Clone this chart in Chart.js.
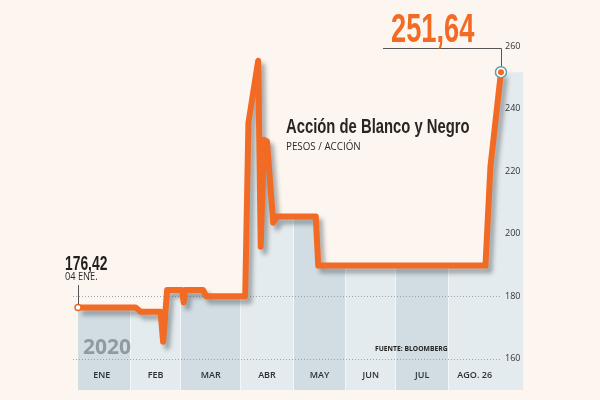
<!DOCTYPE html>
<html>
<head>
<meta charset="utf-8">
<script src="https://cdn.jsdelivr.net/npm/chart.js@4.4.1/dist/chart.umd.min.js"></script>
<style>
  html, body { margin: 0; padding: 0; background: #fdf5f0; }
  #wrap { position: relative; width: 600px; height: 400px; overflow: hidden; background: #fdf5f0; }
  #c { position: absolute; left: 0; top: 0; }
  .t { position: absolute; line-height: 1; white-space: nowrap; transform-origin: 0 0; }
  .cond { font-family: "Liberation Sans", Arial, sans-serif; font-weight: bold; }
</style>
</head>
<body>
<div id="wrap">
  <canvas id="c" width="600" height="400"></canvas>
  <div id="endVal" class="t cond" style="left:391px; top:8px; font-size:41px; color:#f26b24; transform:scaleX(0.665);"></div>
  <div id="startVal" class="t cond" style="left:65px; top:253.5px; font-size:19.5px; color:#231f1c; transform:scaleX(0.71);"></div>
  <div class="t" style="left:65px; top:271px; font-size:10.5px; font-family:'Open Sans',sans-serif; color:#2a2a2a; transform:scaleX(0.88);">04 ENE.</div>
  <div class="t cond" style="left:286px; top:116.8px; font-size:19.5px; color:#2a2520; transform:scaleX(0.76);">Acción de Blanco y Negro</div>
  <div class="t" style="left:286px; top:141px; font-size:10px; font-family:'Open Sans',sans-serif; color:#2a2a2a; transform:scaleX(0.98);">PESOS / ACCIÓN</div>
  <div class="t" style="left:375px; top:344.5px; font-size:7.5px; font-family:'Open Sans',sans-serif; font-weight:bold; color:#222; transform:scaleX(0.9);">FUENTE: BLOOMBERG</div>
  <div class="t" style="left:83px; top:336.4px; font-size:21px; font-family:'Open Sans',sans-serif; font-weight:bold; color:#8f9ba1;">2020</div>
</div>
<script>
// ---- data ----
const monthLabels = ['ENE', 'FEB', 'MAR', 'ABR', 'MAY', 'JUN', 'JUL', 'AGO. 26'];
const monthBounds = [0, 23, 43, 67, 88, 109, 129, 150, 180];
const dayIndex = [2, 25, 27, 35, 36, 37.6, 43.6, 44.2, 44.8, 52, 53.2, 68.8, 70.1, 74, 75, 76.3, 77.5, 80, 81.5, 97, 98, 164.8, 166.8, 171];
const price = [176.42, 176.42, 175, 175, 165.4, 182, 182, 178, 182, 182, 180, 180, 235.5, 255.3, 195.8, 230, 229.5, 203.5, 205.5, 205.5, 189.8, 189.8, 221.5, 251.64];
const yTicks = [160, 180, 200, 220, 240, 260];
const gridValues = [160, 180];

const ORANGE = '#f26b24';
const DARK = '#d2dde3';
const LIGHT = '#e4ebee';

const fmt = v => v.toFixed(2).replace('.', ',');
document.getElementById('endVal').textContent = fmt(price[price.length - 1]);
document.getElementById('startVal').textContent = fmt(price[0]);

const linePts = dayIndex.map((x, i) => ({ x, y: price[i] }));
const fillPts = linePts.concat([{ x: monthBounds[monthBounds.length - 1], y: price[price.length - 1] }]);
const markerPts = [
  { x: dayIndex[0], y: price[0] },
  { x: dayIndex[dayIndex.length - 1], y: price[price.length - 1] },
  { x: dayIndex[dayIndex.length - 1], y: price[price.length - 1] }
];

function columnGradient(ctx) {
  const chart = ctx.chart;
  const area = chart.chartArea;
  if (!area) return DARK;
  const xs = chart.scales.x;
  const g = chart.ctx.createLinearGradient(area.left, 0, area.right, 0);
  const w = area.right - area.left;
  const f = px => Math.min(1, Math.max(0, (px - area.left) / w));
  for (let i = 0; i < monthBounds.length - 1; i++) {
    const c = i % 2 === 0 ? DARK : LIGHT;
    const a = xs.getPixelForValue(monthBounds[i]);
    const b = xs.getPixelForValue(monthBounds[i + 1]);
    const a2 = i === 0 ? a : a + 0.6;
    const b2 = i === monthBounds.length - 2 ? b : b - 0.6;
    if (i > 0) { g.addColorStop(f(a - 0.6), '#f4f7f8'); g.addColorStop(f(a2), '#f4f7f8'); }
    g.addColorStop(f(a2), c);
    g.addColorStop(f(b2), c);
  }
  return g;
}

const decoPlugin = {
  id: 'deco',
  beforeDatasetDraw(chart, args) {
    if (args.meta.label === 'line') {
      const ctx = chart.ctx;
      const area = chart.chartArea;
      const ys = chart.scales.y;
      // dotted grid lines, drawn over the fill but under the line
      ctx.save();
      ctx.strokeStyle = '#8a9499';
      ctx.lineWidth = 0.8;
      ctx.setLineDash([1, 2]);
      gridValues.forEach(v => {
        const y = Math.round(ys.getPixelForValue(v)) + 0.5;
        ctx.beginPath();
        ctx.moveTo(area.left, y);
        ctx.lineTo(area.right - 23, y);
        ctx.stroke();
      });
      ctx.restore();
      ctx.save();
      ctx.shadowColor = 'rgba(70,80,85,0.45)';
      ctx.shadowOffsetX = 4;
      ctx.shadowOffsetY = 5;
      ctx.shadowBlur = 4;
    }
  },
  afterDatasetDraw(chart, args) {
    if (args.meta.label === 'line') chart.ctx.restore();
  },
  afterDatasetsDraw(chart) {
    const ctx = chart.ctx;
    const xs = chart.scales.x, ys = chart.scales.y;
    const area = chart.chartArea;
    ctx.save();
    // month labels
    ctx.font = '600 9px "Open Sans", sans-serif';
    ctx.fillStyle = '#2d3033';
    ctx.textAlign = 'center';
    ctx.textBaseline = 'middle';
    const lastX = dayIndex[dayIndex.length - 1];
    for (let i = 0; i < monthLabels.length; i++) {
      const a = monthBounds[i];
      const b = Math.min(monthBounds[i + 1], lastX);
      ctx.fillText(monthLabels[i], xs.getPixelForValue((a + b) / 2), area.bottom - 15);
    }
    // callout lines
    ctx.strokeStyle = '#555';
    ctx.lineWidth = 1;
    const ex = Math.round(xs.getPixelForValue(lastX)) + 0.5;
    const ey = ys.getPixelForValue(price[price.length - 1]);
    ctx.beginPath();
    ctx.moveTo(383, 48.5);
    ctx.lineTo(ex, 48.5);
    ctx.lineTo(ex, ey - 6);
    ctx.stroke();
    const sx = Math.round(xs.getPixelForValue(dayIndex[0])) + 0.5;
    const sy = ys.getPixelForValue(price[0]);
    ctx.beginPath();
    ctx.moveTo(sx, 285);
    ctx.lineTo(sx, sy - 3);
    ctx.stroke();
    ctx.restore();
  }
};

new Chart(document.getElementById('c'), {
  type: 'line',
  data: {
    datasets: [
      {
        label: 'markers',
        data: markerPts,
        showLine: false,
        order: 0,
        pointRadius: [3, 5.5, 3],
        pointBackgroundColor: ['#ffffff', '#ffffff', ORANGE],
        pointBorderColor: [ORANGE, '#5e9caf', ORANGE],
        pointBorderWidth: [1.5, 1.5, 0],
        pointHoverRadius: 0
      },
      {
        label: 'line',
        data: linePts,
        order: 1,
        borderColor: ORANGE,
        borderWidth: 6,
        borderJoinStyle: 'round',
        borderCapStyle: 'butt',
        pointRadius: 0,
        tension: 0,
        fill: false
      },
      {
        label: 'fill',
        data: fillPts,
        order: 2,
        borderWidth: 0,
        pointRadius: 0,
        tension: 0,
        fill: 'start',
        backgroundColor: columnGradient
      }
    ]
  },
  options: {
    responsive: false,
    animation: false,
    events: [],
    layout: { padding: { left: 73, right: 76.5, top: 46, bottom: 10 } },
    plugins: { legend: { display: false }, tooltip: { enabled: false } },
    scales: {
      x: { type: 'linear', min: monthBounds[0], max: monthBounds[monthBounds.length - 1], display: false },
      y: {
        type: 'linear',
        position: 'right',
        min: 150,
        max: 260,
        afterBuildTicks: s => { s.ticks = yTicks.map(v => ({ value: v })); },
        ticks: {
          z: 1,
          mirror: true,
          padding: -3,
          font: { size: 9, family: '"Open Sans", sans-serif' },
          color: '#333'
        },
        grid: { display: false, drawTicks: false },
        border: { display: false }
      }
    }
  },
  plugins: [decoPlugin]
});
</script>
</body>
</html>
